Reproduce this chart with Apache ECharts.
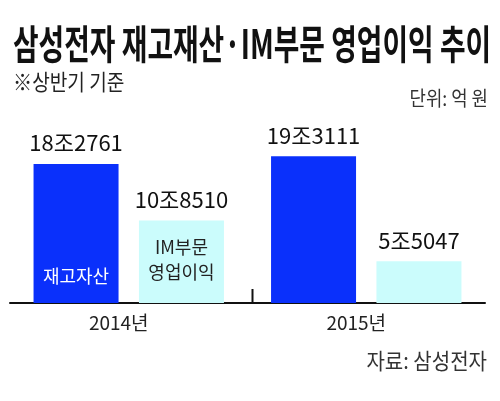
<!DOCTYPE html>
<html>
<head>
<meta charset="utf-8">
<script src="https://cdn.jsdelivr.net/npm/echarts@6/dist/echarts.min.js"></script>
<style>
  html, body { margin: 0; padding: 0; background: #fff; }
  #chart { width: 500px; height: 401px; }
</style>
</head>
<body>
<div id="chart"></div>
<script>
// 단위: 억 원 (상반기 기준)
const years = ['2014년', '2015년'];
const inventory = [182761, 193111];   // 재고자산
const imProfit = [108510, 55047];     // IM부문 영업이익
const innerNames = ['재고자산', 'IM부문\n영업이익'];

const FONT = '"Noto Sans CJK KR", "Noto Sans", sans-serif';
const BAR_W = 85;
const BAR_GAP = '24%';

// 억 원 -> "18조2761"
function toJo(v) {
  return Math.floor(v / 10000) + '조' + String(v % 10000).padStart(4, '0');
}

const myChart = echarts.init(document.getElementById('chart'));

const options = {
  animation: false,
  backgroundColor: '#fff',
  grid: { left: 10, right: 15, top: 113, bottom: 98 },
  xAxis: [
    {
      type: 'category',
      data: years,
      axisLine: { lineStyle: { color: '#111', width: 2 } },
      axisTick: { show: false },
      axisLabel: {
        color: '#222', fontSize: 19, fontFamily: FONT, margin: 10,
        padding: [0, 20, 0, 0]
      }
    },
    // 막대 안쪽 이름표용 (같은 배치)
    { type: 'category', data: years, show: false }
  ],
  yAxis: { type: 'value', min: 0, max: 250000, show: false, splitLine: { show: false } },
  series: [
    {
      name: '재고자산', type: 'bar', data: inventory,
      barWidth: BAR_W, barGap: BAR_GAP,
      itemStyle: { color: '#0a30fb' },
      label: {
        show: true, position: 'top', distance: 10,
        color: '#111', fontSize: 22, fontFamily: FONT,
        formatter: p => toJo(p.value)
      }
    },
    {
      name: 'IM부문 영업이익', type: 'bar', data: imProfit,
      barWidth: BAR_W, barGap: BAR_GAP,
      itemStyle: { color: '#cbfcfc' },
      label: {
        show: true, position: 'top', distance: 10,
        color: '#111', fontSize: 22, fontFamily: FONT,
        formatter: p => toJo(p.value)
      }
    },
    {
      type: 'bar', xAxisIndex: 1, data: inventory,
      barWidth: BAR_W, barGap: BAR_GAP, silent: true,
      itemStyle: { color: 'rgba(0,0,0,0)' },
      label: {
        show: true, position: 'insideBottom', distance: 18,
        color: '#fff', fontSize: 18, fontFamily: FONT,
        formatter: p => (p.dataIndex === 0 ? innerNames[0] : '')
      }
    },
    {
      type: 'bar', xAxisIndex: 1, data: imProfit,
      barWidth: BAR_W, barGap: BAR_GAP, silent: true,
      itemStyle: { color: 'rgba(0,0,0,0)' },
      label: {
        show: true, position: 'insideBottom', distance: 18,
        color: '#222', fontSize: 18, lineHeight: 25, fontFamily: FONT, align: 'center',
        formatter: p => (p.dataIndex === 0 ? innerNames[1] : '')
      }
    }
  ]
};

myChart.setOption(options);

// 제목, 부제, 단위, 출처 + 연도 사이 구분 눈금
const base = myChart.convertToPixel({ yAxisIndex: 0 }, 0);
const c0 = myChart.convertToPixel({ xAxisIndex: 0 }, years[0]);
const c1 = myChart.convertToPixel({ xAxisIndex: 0 }, years[1]);
const mid = (c0 + c1) / 2;

myChart.setOption({
  graphic: [
    {
      type: 'text', x: 13, y: 24, scaleX: 0.696,
      style: {
        text: '삼성전자 재고재산·IM부문 영업이익 추이',
        font: 'bold 40px ' + FONT, fill: '#111', align: 'left', verticalAlign: 'top'
      }
    },
    {
      type: 'text', x: 13, y: 71, scaleX: 0.87,
      style: {
        text: '※상반기 기준', font: '22px ' + FONT, fill: '#222',
        align: 'left', verticalAlign: 'top'
      }
    },
    {
      type: 'text', x: 488, y: 88, scaleX: 0.89,
      style: {
        text: '단위: 억 원', font: '20px ' + FONT, fill: '#333',
        align: 'right', verticalAlign: 'top'
      }
    },
    {
      type: 'text', x: 487, y: 350, scaleX: 0.91,
      style: {
        text: '자료: 삼성전자', font: '22px ' + FONT, fill: '#333',
        align: 'right', verticalAlign: 'top'
      }
    },
    {
      type: 'line',
      shape: { x1: mid + 5, y1: base - 14, x2: mid + 5, y2: base },
      style: { stroke: '#111', lineWidth: 2 }
    }
  ]
});
</script>
</body>
</html>
